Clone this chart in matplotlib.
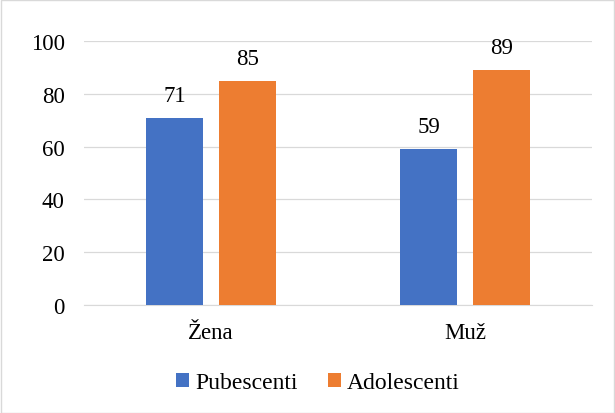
import matplotlib
matplotlib.use("Agg")
import matplotlib.pyplot as plt
import numpy as np
from matplotlib.patches import Rectangle

categories = ["Žena", "Muž"]
series_names = ["Pubescenti", "Adolescenti"]
pubescenti = [71, 59]
adolescenti = [85, 89]
yticks = [0, 20, 40, 60, 80, 100]

plt.rcParams['font.family'] = 'serif'
plt.rcParams['font.serif'] = ['Liberation Serif', 'DejaVu Serif']
FONT = 'Liberation Serif'

fig = plt.figure(figsize=(6.15, 4.14), dpi=100)
W, H = 615, 414
ax = fig.add_axes([84 / W, 1 - 306 / H, (592 - 84) / W, (306 - 42) / H])

FS = 16.5
x = np.arange(len(categories))
bw = 0.224
off = 0.143
colors = ["#4472C4", "#ED7D31"]
b1 = ax.bar(x - off, pubescenti, bw, color=colors[0], label=series_names[0], zorder=3)
b2 = ax.bar(x + off, adolescenti, bw, color=colors[1], label=series_names[1], zorder=3)
for bars, vals in ((b1, pubescenti), (b2, adolescenti)):
    for r, v in zip(bars, vals):
        ax.text(r.get_x() + r.get_width() / 2, v + 4.5, str(v), ha="center", va="bottom",
                fontsize=FS, color="black", family=FONT)

ax.set_xlim(-0.5, 1.5)
ax.set_ylim(0, 100)
ax.set_yticks(yticks)
ax.set_yticklabels([str(t) for t in yticks], family=FONT, fontsize=FS)
ax.set_xticks(x)
ax.set_xticklabels(categories, family=FONT, fontsize=FS)
ax.yaxis.grid(True, color="#D9D9D9", linewidth=0.9, zorder=0)
for s in ["top", "right", "left"]:
    ax.spines[s].set_visible(False)
ax.spines["bottom"].set_color("#D9D9D9")
ax.tick_params(axis="both", length=0, labelcolor="black")
ax.tick_params(axis="y", pad=14)
ax.tick_params(axis="x", pad=12)

fig.legend(handles=[b1, b2], loc="center", bbox_to_anchor=(318 / W, 1 - 384 / H),
           ncol=2, frameon=False, prop={'family': FONT, 'size': FS + 0.5},
           handlelength=0.55, handleheight=0.55,
           columnspacing=1.3, handletextpad=0.25, labelcolor="black")

fig.patches.append(Rectangle((0.5 / W, 0.5 / H), 1 - 1.5 / W, 1 - 1.5 / H, transform=fig.transFigure,
                             fill=False, edgecolor="#D9D9D9", linewidth=1))
fig.savefig("out.png", dpi=100)
